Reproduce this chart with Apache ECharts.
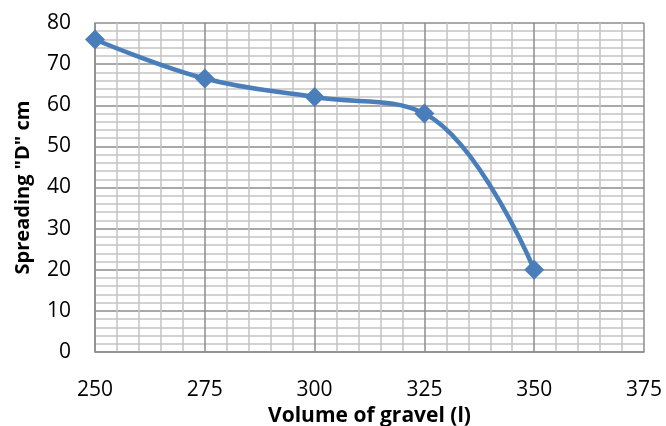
<!DOCTYPE html>
<html>
<head>
<meta charset="utf-8">
<script src="https://cdn.jsdelivr.net/npm/echarts@6/dist/echarts.min.js"></script>
<style>
  html, body { margin: 0; padding: 0; background: #ffffff; }
  #chart { width: 666px; height: 426px; }
</style>
</head>
<body>
<div id="chart"></div>
<script>
// Gravel volume (l) against spreading diameter "D" (cm)
const gravelVolume = [250, 275, 300, 325, 350];
const spreading = [76, 66.5, 62, 58, 20];

const xTicks = { min: 250, max: 375, interval: 25 };
const yTicks = { min: 0, max: 80, interval: 10 };

const font = '"Open Sans", "Noto Sans", sans-serif';
const majorColor = '#8c8c8c';
const minorColor = '#c4c4c4';

const chart = echarts.init(document.getElementById('chart'), null, { renderer: 'canvas' });

chart.setOption({
  animation: false,
  backgroundColor: '#ffffff',
  grid: {
    left: 95, right: 22, top: 23, bottom: 74,
    containLabel: false,
    outerBoundsMode: 'none'
  },
  xAxis: {
    type: 'value',
    min: xTicks.min, max: xTicks.max, interval: xTicks.interval,
    name: 'Volume of gravel (l)',
    nameLocation: 'middle',
    nameGap: 49,
    nameTextStyle: { fontFamily: font, fontSize: 21, fontWeight: 'bold', color: '#000' },
    axisLine: { show: true, lineStyle: { color: majorColor, width: 1.5 } },
    axisTick: { show: false },
    axisLabel: { fontFamily: font, fontSize: 21, color: '#000', margin: 28 },
    splitLine: { show: true, lineStyle: { color: majorColor, width: 1.5 } },
    minorTick: { show: false, splitNumber: 5 },
    minorSplitLine: { show: true, lineStyle: { color: minorColor, width: 1.5 } }
  },
  yAxis: {
    type: 'value',
    min: yTicks.min, max: yTicks.max, interval: yTicks.interval,
    name: 'Spreading "D" cm',
    nameLocation: 'middle',
    nameGap: 62,
    nameTextStyle: { fontFamily: font, fontSize: 20, fontWeight: 'bold', color: '#000' },
    axisLine: { show: true, lineStyle: { color: majorColor, width: 1.5 } },
    axisTick: { show: false },
    axisLabel: { fontFamily: font, fontSize: 21, color: '#000', margin: 24 },
    splitLine: { show: true, lineStyle: { color: majorColor, width: 1.5 } },
    minorTick: { show: false, splitNumber: 5 },
    minorSplitLine: { show: true, lineStyle: { color: minorColor, width: 1.5 } }
  },
  series: [{
    type: 'line',
    data: gravelVolume.map((v, i) => [v, spreading[i]]),
    smooth: 0.4,
    symbol: 'diamond',
    symbolSize: 20,
    clip: false,
    lineStyle: { color: '#4a7ebb', width: 4.5 },
    itemStyle: { color: '#4a7ebb' }
  }]
});
</script>
</body>
</html>
